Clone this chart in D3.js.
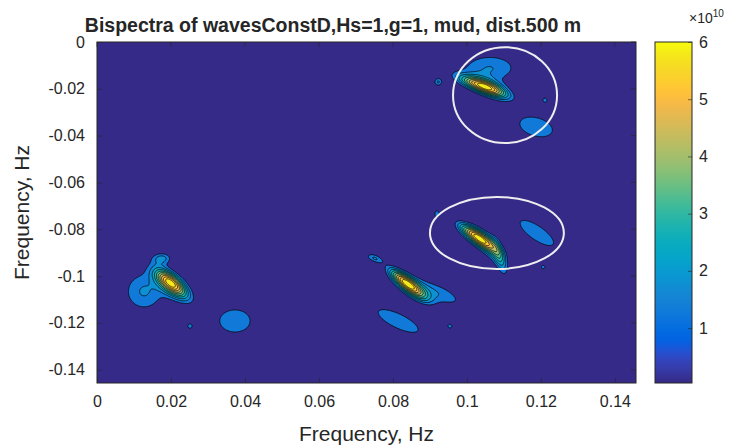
<!DOCTYPE html>
<html>
<head>
<meta charset="utf-8">
<script src="https://cdn.jsdelivr.net/npm/d3@7"></script>
<style>
  body { margin: 0; background: #fff; }
  svg { display: block; }
  text { font-family: "Liberation Sans", Arial, Helvetica, sans-serif; fill: #262626; }
</style>
</head>
<body>
<svg id="chart" width="749" height="448"></svg>
<script>
// ---- data (bispectrum magnitude in units of 1e10) ----
const freqMax = 0.1457;
const xTicks = [0, 0.02, 0.04, 0.06, 0.08, 0.1, 0.12, 0.14];
const yTicks = [0, -0.02, -0.04, -0.06, -0.08, -0.1, -0.12, -0.14];
const cbarTicks = [1, 2, 3, 4, 5, 6];
const cbarRange = [0.04, 6];
const levels = [1.3, 1.8, 2.3, 2.8, 3.3, 3.8, 4.3, 4.8, 5.3, 5.8];

// spectral peaks: centre (Hz), amplitude, spread along f1 / across ridge (Hz), ridge slope
const peakX = [
  0.1041, 0.1068, 0.1062, 0.0922, 0.1211, 0.1187,
  0.1027, 0.1062, 0.1089, 0.0919, 0.1189, 0.1206,
  0.0197, 0.0218, 0.0127, 0.0176, 0.0373, 0.0251,
  0.0833, 0.0862, 0.0927, 0.0749, 0.0814, 0.0954
];
const peakY = [
  -0.0188, -0.0205, -0.0111, -0.0171, -0.0248, -0.0363,
  -0.0833, -0.0880, -0.0923, -0.0735, -0.0816, -0.0962,
  -0.1026, -0.1055, -0.1066, -0.0923, -0.1192, -0.1214,
  -0.1026, -0.1064, -0.1073, -0.0923, -0.1192, -0.1214
];
const peakAmp = [
  4.2, 1.8, 1.8, 1.75, 1.5, 1.75,
  5.2, 1.8, 1.6, 1.75, 1.75, 1.5,
  4.2, 1.8, 1.85, 1.75, 1.75, 1.5,
  4.6, 1.8, 1.65, 1.75, 1.75, 1.5
];
const peakSx = [
  0.00438, 0.00378, 0.00703, 0.00095, 0.00081, 0.00568,
  0.00351, 0.00332, 0.00162, 0.00068, 0.00584, 0.00081,
  0.00281, 0.00360, 0.00500, 0.00211, 0.00527, 0.00081,
  0.00317, 0.00351, 0.00602, 0.00190, 0.00697, 0.00081
];
const peakSy = [
  0.00202, 0.00299, 0.00556, 0.00150, 0.00128, 0.00513,
  0.00247, 0.00390, 0.00513, 0.00171, 0.00445, 0.00128,
  0.00296, 0.00410, 0.00780, 0.00192, 0.00611, 0.00128,
  0.00255, 0.00321, 0.00368, 0.00150, 0.00419, 0.00128
];
const peakSlope = [
  -0.514, -0.575, 0, 0, 0, -0.3,
  -0.912, -1.327, -2.738, 0, -0.912, 0,
  -0.912, -0.912, 0, 0, 0, 0,
  -1.026, -0.912, -0.639, -0.45, -0.671, 0
];

// highlighted regions (white ellipses), Hz
const ringCx = [0.1103, 0.1081];
const ringCy = [-0.0227, -0.0816];
const ringRx = [0.01406, 0.0181];
const ringRy = [0.0205, 0.0154];

// ---- parula colormap ----
const parulaTable = [
[0.2081,0.1663,0.5292],[0.2116,0.1898,0.5777],[0.2123,0.2138,0.6270],[0.2081,0.2386,0.6771],
[0.1959,0.2645,0.7279],[0.1707,0.2919,0.7792],[0.1253,0.3242,0.8303],[0.0591,0.3598,0.8683],
[0.0117,0.3875,0.8820],[0.0060,0.4086,0.8828],[0.0165,0.4266,0.8786],[0.0329,0.4430,0.8720],
[0.0498,0.4586,0.8641],[0.0629,0.4737,0.8554],[0.0723,0.4887,0.8467],[0.0779,0.5040,0.8384],
[0.0793,0.5200,0.8312],[0.0749,0.5375,0.8263],[0.0641,0.5570,0.8240],[0.0488,0.5772,0.8228],
[0.0343,0.5966,0.8199],[0.0265,0.6137,0.8135],[0.0239,0.6287,0.8038],[0.0231,0.6418,0.7913],
[0.0228,0.6535,0.7768],[0.0267,0.6642,0.7607],[0.0384,0.6743,0.7436],[0.0590,0.6838,0.7254],
[0.0843,0.6928,0.7062],[0.1133,0.7015,0.6859],[0.1453,0.7098,0.6646],[0.1801,0.7177,0.6424],
[0.2178,0.7250,0.6193],[0.2586,0.7317,0.5954],[0.3022,0.7376,0.5712],[0.3482,0.7424,0.5473],
[0.3953,0.7459,0.5244],[0.4420,0.7481,0.5033],[0.4871,0.7491,0.4840],[0.5300,0.7491,0.4661],
[0.5709,0.7485,0.4494],[0.6099,0.7473,0.4337],[0.6473,0.7456,0.4188],[0.6834,0.7435,0.4044],
[0.7184,0.7411,0.3905],[0.7525,0.7384,0.3768],[0.7858,0.7356,0.3633],[0.8185,0.7327,0.3498],
[0.8507,0.7299,0.3360],[0.8824,0.7274,0.3217],[0.9139,0.7258,0.3063],[0.9450,0.7261,0.2886],
[0.9739,0.7314,0.2666],[0.9938,0.7455,0.2403],[0.9990,0.7653,0.2164],[0.9955,0.7861,0.1967],
[0.9880,0.8066,0.1794],[0.9789,0.8271,0.1633],[0.9697,0.8481,0.1475],[0.9626,0.8705,0.1309],
[0.9589,0.8949,0.1132],[0.9598,0.9218,0.0948],[0.9661,0.9514,0.0755],[0.9763,0.9831,0.0538]
].map(c => d3.rgb(c[0]*255, c[1]*255, c[2]*255).formatHex());
const parula = d3.piecewise(d3.interpolateRgb, parulaTable);
const color = v => parula(Math.max(0, Math.min(1, (v - cbarRange[0]) / (cbarRange[1] - cbarRange[0]))));

// tick labels with a plain hyphen for negatives
const fmt = d => d3.format("~g")(d).replace("\u2212", "-");

// ---- layout ----
const svg = d3.select("#chart");
const plot = { left: 97, top: 42, right: 636, bottom: 383 };
const x = d3.scaleLinear().domain([0, freqMax]).range([plot.left, plot.right]);
const y = d3.scaleLinear().domain([-freqMax, 0]).range([plot.bottom, plot.top]);

// ---- field on a regular grid ----
const nx = 540, ny = 341;
const field = new Float64Array(nx * ny);
for (let j = 0; j < ny; j++) {
  const fy = -(j + 0.5) / ny * freqMax;
  for (let i = 0; i < nx; i++) {
    const fx = (i + 0.5) / nx * freqMax;
    let s = 0;
    for (let k = 0; k < peakX.length; k++) {
      const dx = fx - peakX[k];
      const dy = fy - peakY[k] - peakSlope[k] * dx;
      const q = (dx / peakSx[k]) ** 2 + (dy / peakSy[k]) ** 2;
      if (q < 40) s += peakAmp[k] * Math.exp(-0.5 * q);
    }
    field[j * nx + i] = s;
  }
}

const contours = d3.contours().size([nx, ny]).smooth(true).thresholds(levels)(field);
const gridProj = d3.geoTransform({
  point(gx, gy) { this.stream.point(x(gx / nx * freqMax), y(-gy / ny * freqMax)); }
});
const path = d3.geoPath(gridProj);

svg.append("clipPath").attr("id", "plotClip").append("rect")
  .attr("x", plot.left).attr("y", plot.top)
  .attr("width", plot.right - plot.left).attr("height", plot.bottom - plot.top);

const g = svg.append("g").attr("clip-path", "url(#plotClip)");
g.append("rect")
  .attr("x", plot.left).attr("y", plot.top)
  .attr("width", plot.right - plot.left).attr("height", plot.bottom - plot.top)
  .attr("fill", color(cbarRange[0]));

g.selectAll("path.band").data(contours).join("path")
  .attr("class", "band")
  .attr("d", path)
  .attr("fill", d => color(d.value))
  .attr("stroke", "#000")
  .attr("stroke-width", 0.7)
  .attr("stroke-linejoin", "round");

// highlighted regions
g.selectAll("ellipse.ring").data(ringCx).join("ellipse")
  .attr("class", "ring")
  .attr("cx", (d, i) => x(ringCx[i]))
  .attr("cy", (d, i) => y(ringCy[i]))
  .attr("rx", (d, i) => x(ringRx[i]) - x(0))
  .attr("ry", (d, i) => y(0) - y(ringRy[i]))
  .attr("fill", "none")
  .attr("stroke", "#eeeeee")
  .attr("stroke-width", 2);

// ---- axes ----
const tickLen = 5;
const axisColor = "#262626";
const xAxisB = d3.axisBottom(x).tickValues(xTicks).tickSizeInner(-tickLen).tickSizeOuter(0).tickPadding(13).tickFormat(fmt);
const yAxisL = d3.axisLeft(y).tickValues(yTicks).tickSizeInner(-tickLen).tickSizeOuter(0).tickPadding(12).tickFormat(fmt);

const gx = svg.append("g").attr("transform", `translate(0,${plot.bottom})`).call(xAxisB);
const gy = svg.append("g").attr("transform", `translate(${plot.left},0)`).call(yAxisL);
[gx, gy].forEach(a => {
  a.select(".domain").remove();
  a.selectAll("line").attr("stroke", axisColor).attr("stroke-width", 0.6);
  a.selectAll("text").attr("font-size", 16).attr("fill", axisColor)
    .attr("font-family", '"Liberation Sans", Arial, sans-serif');
});
// ticks mirrored on top and right edges
svg.append("g").selectAll("line").data(xTicks).join("line")
  .attr("x1", d => x(d)).attr("x2", d => x(d))
  .attr("y1", plot.top).attr("y2", plot.top + tickLen)
  .attr("stroke", axisColor).attr("stroke-width", 0.6);
svg.append("g").selectAll("line").data(yTicks).join("line")
  .attr("x1", plot.right).attr("x2", plot.right - tickLen)
  .attr("y1", d => y(d)).attr("y2", d => y(d))
  .attr("stroke", axisColor).attr("stroke-width", 0.6);

svg.append("rect")
  .attr("x", plot.left).attr("y", plot.top)
  .attr("width", plot.right - plot.left).attr("height", plot.bottom - plot.top)
  .attr("fill", "none").attr("stroke", axisColor).attr("stroke-width", 1);

// ---- titles ----
svg.append("text")
  .attr("x", 333).attr("y", 32)
  .attr("text-anchor", "middle").attr("font-size", 19.5).attr("font-weight", "bold")
  .attr("fill", "#000")
  .text("Bispectra of wavesConstD,Hs=1,g=1, mud, dist.500 m");

svg.append("text")
  .attr("x", (plot.left + plot.right) / 2).attr("y", 441)
  .attr("text-anchor", "middle").attr("font-size", 21)
  .text("Frequency, Hz");

svg.append("text")
  .attr("transform", `translate(29,${(plot.top + plot.bottom) / 2}) rotate(-90)`)
  .attr("text-anchor", "middle").attr("font-size", 21)
  .text("Frequency, Hz");

// ---- colorbar ----
const cb = { left: 655, right: 692, top: 42, bottom: 383 };
const cy = d3.scaleLinear().domain(cbarRange).range([cb.bottom, cb.top]);
const grad = svg.append("defs").append("linearGradient")
  .attr("id", "parulaGrad").attr("x1", 0).attr("y1", 1).attr("x2", 0).attr("y2", 0);
grad.selectAll("stop").data(d3.range(0, 1.0001, 1 / 63)).join("stop")
  .attr("offset", d => d).attr("stop-color", d => parula(Math.min(1, d)));
svg.append("rect")
  .attr("x", cb.left).attr("y", cb.top)
  .attr("width", cb.right - cb.left).attr("height", cb.bottom - cb.top)
  .attr("fill", "url(#parulaGrad)")
  .attr("stroke", axisColor).attr("stroke-width", 1);
const cAxis = d3.axisRight(cy).tickValues(cbarTicks).tickSizeInner(-4).tickSizeOuter(0).tickPadding(7).tickFormat(d3.format("d"));
const gc = svg.append("g").attr("transform", `translate(${cb.right},0)`).call(cAxis);
gc.select(".domain").remove();
gc.selectAll("line").attr("stroke", axisColor).attr("stroke-width", 0.6);
gc.selectAll("text").attr("font-size", 16).attr("fill", axisColor);

const exp = svg.append("text").attr("x", 689).attr("y", 23).attr("font-size", 14).attr("fill", "#555");
exp.append("tspan").text("\u00d710");
exp.append("tspan").attr("dy", -6).attr("font-size", 10).text("10");
</script>
</body>
</html>
